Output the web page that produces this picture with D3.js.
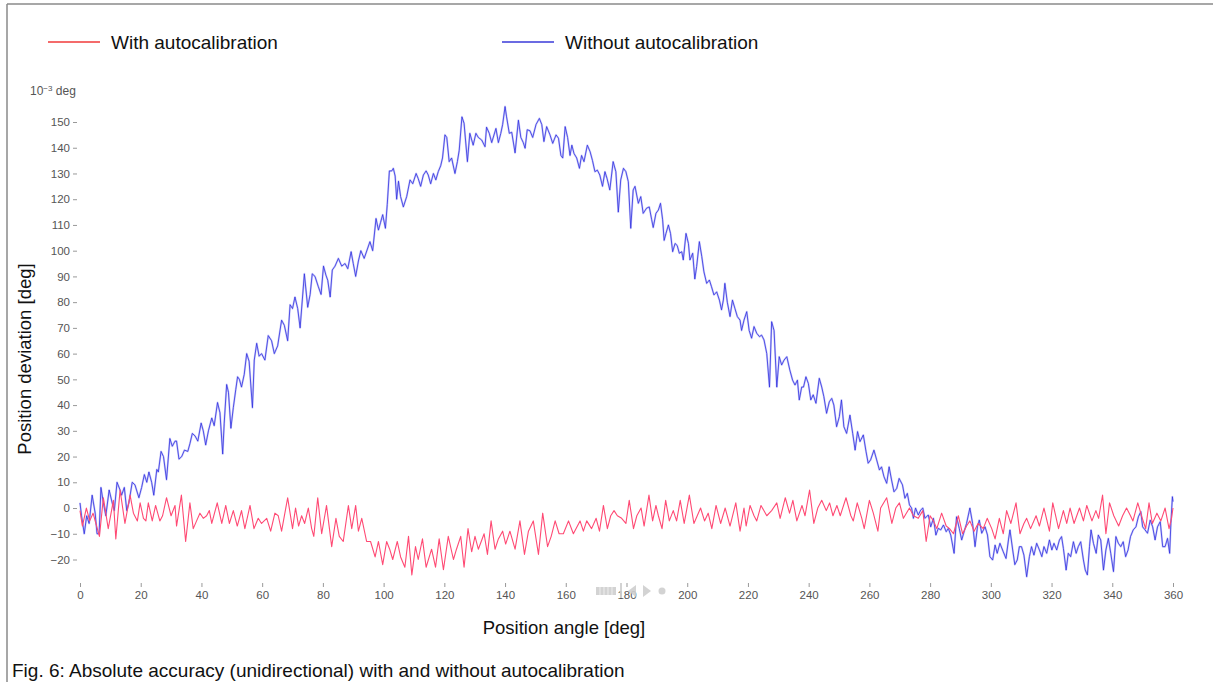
<!DOCTYPE html>
<html>
<head>
<meta charset="utf-8">
<script src="https://cdn.jsdelivr.net/npm/d3@7"></script>
<style>
  html, body { margin: 0; padding: 0; background: #fff; }
  svg { display: block; }
  text { font-family: "Liberation Sans", Arial, Helvetica, sans-serif; }
</style>
</head>
<body>
<svg id="chart" width="1213" height="682"></svg>
<script>
// ---------- data ----------
const seriesNames = ["With autocalibration", "Without autocalibration"];
const xTicks = [0, 20, 40, 60, 80, 100, 120, 140, 160, 180, 200, 220, 240, 260, 280, 300, 320, 340, 360];
const yTicks = [-20, -10, 0, 10, 20, 30, 40, 50, 60, 70, 80, 90, 100, 110, 120, 130, 140, 150];

const redAngle = [0,0.8,2.1,3.2,4.3,6.4,7.7,9.3,11,11.8,13.2,14.8,16.5,17.6,18.9,19.8,20.9,21.7,22.5,23.8,24.9,26.3,27.2,28.5,30,31.3,31.8,33.4,34.8,36.2,37.3,38.4,39.5,40.6,41.7,42.6,43.4,45.2,46.7,48,49.2,50.5,51.8,53.2,54.3,56,57.3,58.7,59.8,61.5,62.8,64.2,65.3,66.4,68.4,70,71,72,73,74,75.2,76.3,77,78.3,79.6,81.2,82.9,84.3,85.4,
86.7,88.4,89.5,90.8,91.7,92.8,94.4,95.7,97.2,98.3,99.7,101,102,103,104.5,105.6,107,108.2,109.3,110.5,111.4,112.8,114,115.8,117.1,118.3,119.7,121.3,123,124,125.4,126.5,127.8,129,130.1,131.2,133.1,134.2,135.4,136.7,137.8,139.2,140.2,141.6,143.3,144.9,146.4,147.7,149.3,151,152.4,154,155.2,156.5,157.8,159.2,160.9,162.5,164.7,165.8,166.9,168.5,170,171.1,172.4,173.7,174.8,175.9,177,178.4,179.8,180.9,182.3,183.4,184.8,
185.8,187.4,188.6,189.7,190.5,191.7,192.9,194.1,195.4,196.5,197.7,199,200.7,202.2,204.4,205.7,206.9,208.1,209.5,211,212.5,214.1,216,217.4,218.7,219.4,220.7,222,222.9,224.3,226.2,227.8,229.5,230.6,232.3,233.7,234.8,236.1,237.8,238.8,240.3,241.7,243,244.3,245.8,246.9,248,249.3,250.4,252.3,253.9,254.7,256,257.5,258.3,260,261.3,262.8,263.7,265.7,267.4,268.7,269.9,
271.2,273.2,274.5,276.1,277.6,278.7,280,281.1,282.2,283.8,285.3,286.4,287.7,289.3,290.7,292,293.1,294.5,295.8,297.5,298.8,300.3,301.4,302.8,304.1,305.2,306.6,308.3,309.6,310.9,311.8,313.1,314.9,316,317.5,319.3,320.4,322.3,323.9,325,326.1,327.4,329.2,330.5,331.6,333.3,334.6,335.5,336.8,337.9,339.1,340.5,342.1,343.4,344.7,346,346.8,348.4,349.9,351,352.1,353.2,354.7,356,357.4,358.7,359.5,360];
const redValue = [-1,-7,0,-5,-2,-11,4,-8,3,-12,7,-6,5,-2,-5,2,-4,-5,2,-5,1,-5,-3,4,-3,1,-7,5,-13,2,-8,-5,-2,-4,-3,-1,-6,2,-6,1,-6,-1,-7,-1,-8,1,-8,-4,-6,-4,-9,-2,-3,-9,4,-8,0,-7,-3,-6,0,-8,-11,4,-10,1,-15,-4,-11,
-13,1,-8,1,-9,-4,-13,-13,-19,-13,-22,-13,-16,-20,-13,-19,-23,-11,-26,-15,-20,-12,-23,-16,-23,-12,-24,-11,-20,-16,-11,-23,-8,-17,-11,-16,-10,-18,-5,-16,-12,-9,-14,-9,-16,-5,-18,-9,-5,-18,-2,-15,-11,-5,-10,-10,-5,-10,-5,-9,-5,-8,-4,-9,1,-8,-3,-1,-3,-4,-6,3,-8,-3,0,
-7,5,-5,1,-3,-8,3,-5,-1,-5,3,-6,5,-6,0,-5,-2,-8,1,-6,0,-7,2,-9,0,-7,1,-3,-5,1,-3,-1,2,-4,4,-2,3,-5,1,-3,7,-6,0,3,-1,2,-3,1,-3,4,-3,-5,2,-4,-8,3,-2,-9,0,4,-6,0,2,
-4,0,-3,-4,-1,-13,-3,-5,-8,-2,-7,-8,-10,-3,-10,-7,-5,-9,-6,-8,-4,-8,-12,-4,-10,-1,-6,2,-10,-6,-4,-8,-3,-7,0,-9,2,-8,-1,-6,0,-6,0,-5,1,-5,-1,-4,5,-10,2,-3,-7,-3,0,-3,-5,2,-4,-8,2,-6,-2,-5,0,-8,-4,0];

const blueAngle = [0,0.5,1.4,2.2,3,4,5,5.6,6.3,6.9,7.7,8.5,9.6,10.6,11.3,12.2,13.2,13.7,14.6,15.4,16.1,17.2,18.1,19.4,20.3,21.2,22,22.7,23.6,24.3,25.3,25.8,26.7,27.5,28.5,29.6,30.4,31.3,31.8,32.6,33.5,34.4,35.5,36.2,37,37.9,38.8,39.9,40.6,41.4,42.3,43.4,44.2,45.3,46.1,47,47.5,48.3,48.9,49.7,50.5,51.3,51.9,52.5,53.2,54.1,54.9,55.7,56.8,57.4,58.2,59,59.8,60.9,62,63.1,64,65.1,66.4,67.3,68.4,69.2,70,70.8,71.7,72.5,73.9,75,75.8,76.5,77.4,78.5,79.4,80.2,81,81.6,82.4,83.1,84,85.1,86.2,87.3,88.2,89.3,90,90.8,91.7,92.5,93.6,
95.5,96.4,97.5,98.3,99,99.7,100.6,101.2,101.9,102.7,103.2,103.8,104.3,104.9,105.6,106.5,107.6,108.7,109.6,110.7,111.4,112.2,113.1,114,114.7,115.5,116.4,117.2,118,118.8,119.4,120.2,120.8,121.6,122.4,123.5,124.3,124.9,125.8,126.5,127.6,128.4,129.5,130.4,131.2,132.3,133.4,133.9,134.8,135.6,137,137.8,138.6,139.2,140,140.5,141.4,142.2,143.3,144.4,145.2,146,146.6,147.3,148.2,149.1,150.2,151.3,152.1,152.8,153.7,154.8,155.7,156.8,157.6,158.4,159,159.8,160.6,161.4,162,162.7,163.6,164.5,165.2,166,167.1,168,168.8,169.6,170.4,171.2,172.1,172.9,173.6,174.5,175.6,176.5,177.3,178.1,179,179.8,180.6,181.4,182.2,182.8,183.9,184.7,185.5,186.6,187.5,188.3,188.8,189.7,190.5,
191.2,191.9,192.4,193,193.8,194.5,195.2,196,196.7,197.4,198.2,198.7,199.6,200.4,200.9,201.8,202.5,203.1,204,204.8,205.5,206.4,207.3,208,208.8,209.7,210.6,211.3,211.9,212.4,213.2,214.1,214.9,215.7,216.5,217.4,217.9,218.7,219.6,220.4,221.2,222,222.9,223.8,224.5,225.3,226.2,227.1,227.8,228.6,229.5,230.3,231.1,231.9,232.8,233.8,234.7,235.5,236.3,236.9,237.7,238.3,239.1,239.9,240.7,241.5,242.4,243.5,244.3,245,245.9,246.8,247.6,248.3,249.2,250.1,250.8,251.6,252.5,253.6,254.5,255.3,256.1,256.9,258,258.9,259.6,260.4,261.5,262.4,263.3,264,264.8,265.7,266.5,267.3,268.1,269,269.8,
270.9,271.7,272.5,273.2,273.9,274.5,275.2,276.1,276.9,277.6,278.3,279.4,280.2,281.1,281.9,282.7,283.5,284.4,285.3,286,286.8,287.9,288.7,289.6,290.4,291.2,292,293.1,294,294.8,295.6,296.2,297,298.1,298.9,299.7,300.6,301.4,302.1,303,304.1,305,305.8,306.3,307.2,307.9,308.7,309.4,310.1,310.9,311.8,312.7,313.4,314.2,315.1,316,316.8,317.5,318.4,319.3,320.1,320.8,321.7,322.6,323.3,323.9,324.8,325.5,326.3,327.2,328.1,328.8,329.6,330.5,331.1,331.8,332.5,333,333.8,334.7,335.4,336.2,337.1,337.9,338.7,339.5,340.4,341.2,342,342.8,343.6,344.4,345.2,346,346.9,347.8,348.6,349.4,350,350.8,351.6,352.5,353.3,354.1,354.9,355.8,356.6,357.4,358.2,358.9,359.3,359.8,360];
const blueValue = [2,-3,-10,-3,-6,5,-2,-10,-10,8,2,-3,7,2,-1,10,7,5,8,-1,2,10,9,4,8,13,10,14,10,5,15,14,22,20,11,27,24,26,26,19,20,22.5,22,25,29,28,26,33,30,24.5,30,35,32,41,37,21,33,48,45,31,39,46,51,50,47,52,60,57,39,57.5,64,59,60,57.5,67,65,60,63,73,71,65,79,77.5,82,77.5,70,91,78,83,91,90,86,83,94,90.5,88.5,82,92.5,94,97,94,95,93,99.6,95,90,96,100,97,
103.5,100,112.5,108,111,114,108.7,118,131,131,132,129,120,127,121,117,121,127.5,126,130,128,125,129.4,131,129.4,126,130,127.5,130.7,133,136,145,144,134.6,136,130,134.6,139,152,149.5,134.6,145.6,141,145.6,144,143,140.4,148,145.6,142,147.5,142,145.6,149,156,152,145.6,146,138,150.7,144,142,139.8,147,146.6,144,149,151.4,149,142.4,148.2,145,141.7,145,143.7,137,136,148.2,144,137,141,137.8,136,132,137,134.6,141,138.5,135,130.7,131.3,129.4,125,130.7,128,123.6,134.6,130.7,115,127.5,132,130.7,126.8,108.7,123.6,125,118.4,121,114.5,116.5,117,112,109,114.5,115.8,
118.4,112,104,106.7,110,106.7,99.6,102.8,102,99,99.6,96.4,106.7,102.8,96.4,99,89,93.8,103.5,97.7,91.8,87.3,88.6,86,82.8,84,80.8,77,80.8,87.3,80,74.4,80.8,77.6,74.4,73,69,73,76.3,69,66,70.5,67.9,66.6,67.2,65.3,60,47,72.4,69,47,58.8,55.6,57.5,58.8,53.6,49.7,47.8,49.7,42,47,47,51,48.4,42,44,40.7,50.4,47,43.3,36.8,41.3,42.6,40,31.6,35.5,42,31.6,29,36.1,29,22.5,29.7,25.8,28.4,21.9,17.4,18.7,22.5,18.7,14.8,16,12.2,9.6,16,10.9,6.3,7.6,11.5,
9,3.8,5.7,1.2,0,-4,0,-2.7,-0.8,0,-4,-2.7,-7.3,-4,-10.5,-7.9,-8.5,-6.6,-9.2,-7.9,-10.5,-17.6,-3.4,-7.9,-12.4,-9.2,-6,0,-6,-15,-7.3,-4.7,-9.8,-7.3,-10.5,-18.9,-20.2,-14.4,-17.6,-13.7,-17,-19.6,-12.4,-8.5,-16.3,-22,-20.2,-15,-15,-18.3,-26.7,-18.9,-15,-18.3,-13.7,-16.3,-18.9,-15,-17.6,-12.4,-16.3,-13.7,-16.3,-12.4,-11.1,-15.7,-24.1,-17.6,-18.9,-13.1,-17.6,-15,-13.1,-20.2,-24.1,-26,-15,-8.5,-13.7,-17.6,-10.5,-12.4,-24.1,-16.3,-11.8,-17.6,-24.7,-11.1,-13.7,-15,-13.1,-18.9,-16.3,-11.1,-8.5,-7.3,-3.4,-1.4,-7.3,-8.5,-9.8,-4.7,-7.3,-12.4,-7.3,-5.3,-15,-15,-11.8,-17.6,-6,4.4,2.5];

// ---------- drawing ----------
const svg = d3.select("#chart");
const redColor = "#ff4a74";
const blueColor = "#3030e0";

// frame
svg.append("line").attr("x1", 7).attr("y1", 4).attr("x2", 1213).attr("y2", 4)
  .attr("stroke", "#8a8a8a").attr("stroke-width", 1.5);
svg.append("line").attr("x1", 7).attr("y1", 4).attr("x2", 7).attr("y2", 682)
  .attr("stroke", "#8a8a8a").attr("stroke-width", 1.5);

const x = d3.scaleLinear().domain([0, 360]).range([80, 1173]);
const y = d3.scaleLinear().domain([-20, 150]).range([559.5, 122]);

// y axis
const yAxis = svg.append("g").attr("transform", "translate(77,0)")
  .call(d3.axisLeft(y).tickValues(yTicks).tickSize(4).tickPadding(3).tickFormat(d3.format("d")));
yAxis.select(".domain").remove();
yAxis.selectAll(".tick line").attr("stroke", "#999");
yAxis.selectAll(".tick text").attr("fill", "#555").style("font-size", "11.5px")
  .style("font-family", "'Liberation Sans', Arial, sans-serif");

// x axis
const xAxis = svg.append("g").attr("transform", "translate(0,583)")
  .call(d3.axisBottom(x).tickValues(xTicks).tickSize(4).tickPadding(4).tickFormat(d3.format("d")));
xAxis.select(".domain").remove();
xAxis.selectAll(".tick line").attr("stroke", "#999");
xAxis.selectAll(".tick text").attr("fill", "#555").style("font-size", "11.5px")
  .style("font-family", "'Liberation Sans', Arial, sans-serif");

// unit label
const unit = svg.append("text").attr("x", 30).attr("y", 95).attr("fill", "#555").style("font-size", "12px");
unit.append("tspan").text("10");
unit.append("tspan").attr("dy", -4).style("font-size", "8px").text("\u22123");
unit.append("tspan").attr("dy", 4).text(" deg");

// lines
const line = d3.line().x(d => x(d[0])).y(d => y(d[1]));
const blueData = blueAngle.map((a, i) => [a, blueValue[i]]);
const redData = redAngle.map((a, i) => [a, redValue[i]]);

svg.append("path").datum(blueData).attr("d", line).attr("fill", "none")
  .attr("stroke", "#6a6af2").attr("stroke-opacity", 0.35).attr("stroke-width", 2).attr("stroke-linejoin", "round");
svg.append("path").datum(blueData).attr("d", line).attr("fill", "none")
  .attr("stroke", blueColor).attr("stroke-width", 0.8).attr("stroke-linejoin", "round");
svg.append("path").datum(redData).attr("d", line).attr("fill", "none")
  .attr("stroke", redColor).attr("stroke-width", 1.1).attr("stroke-linejoin", "round");

// legend
const legend = [
  { name: seriesNames[0], color: "#f03a3a", x0: 48 },
  { name: seriesNames[1], color: "#3a3ad8", x0: 502 }
];
legend.forEach(l => {
  svg.append("line").attr("x1", l.x0).attr("x2", l.x0 + 52).attr("y1", 42).attr("y2", 42)
    .attr("stroke", l.color).attr("stroke-width", 1.3);
  svg.append("text").attr("x", l.x0 + 63).attr("y", 48.5).attr("fill", "#111")
    .style("font-size", "19px").text(l.name);
});

// axis titles
svg.append("text").attr("transform", "translate(31,359) rotate(-90)").attr("text-anchor", "middle")
  .attr("fill", "#111").style("font-size", "18.5px").text("Position deviation [deg]");
svg.append("text").attr("x", 564).attr("y", 634).attr("text-anchor", "middle")
  .attr("fill", "#111").style("font-size", "18.5px").text("Position angle [deg]");

// caption
svg.append("text").attr("x", 12).attr("y", 677).attr("fill", "#111")
  .style("font-size", "19px").text("Fig. 6: Absolute accuracy (unidirectional) with and without autocalibration");

// faint media-control overlay seen in the reference near 180
const ov = svg.append("g").attr("fill", "#cfcfcf").attr("opacity", 0.9);
ov.append("rect").attr("x", 596).attr("y", 587).attr("width", 20).attr("height", 8);
[600, 604, 608, 612].forEach(px => svg.append("line").attr("x1", px).attr("x2", px).attr("y1", 587).attr("y2", 595).attr("stroke", "#eee").attr("stroke-width", 1));
ov.append("rect").attr("x", 620).attr("y", 583).attr("width", 2).attr("height", 15);
ov.append("path").attr("d", "M636,585 L628,591 L636,597 Z");
ov.append("path").attr("d", "M643,585 L651,591 L643,597 Z");
ov.append("circle").attr("cx", 662).attr("cy", 591).attr("r", 3.5);
</script>
</body>
</html>
